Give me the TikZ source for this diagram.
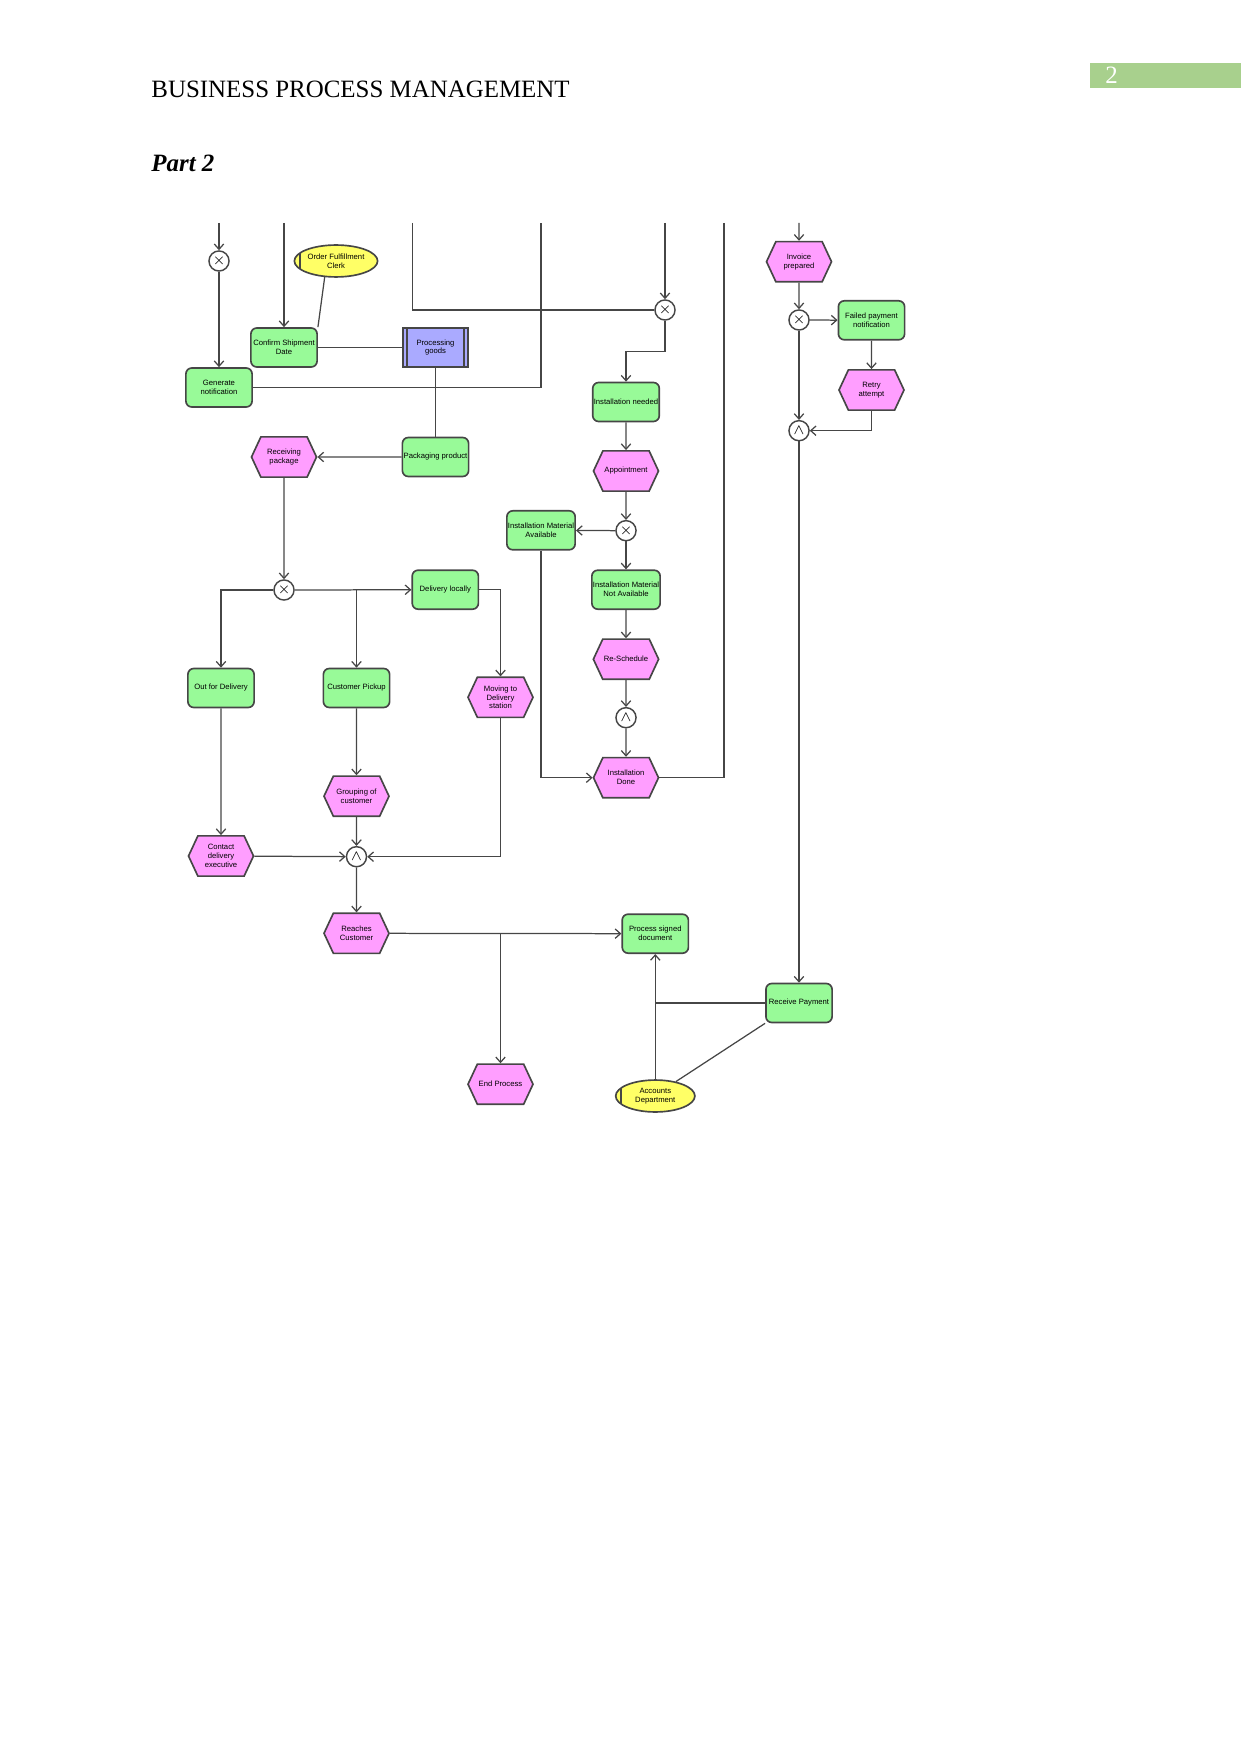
\documentclass[tikz,border=0pt]{standalone}
\usepackage{fontspec}
\setmainfont{Liberation Serif}
\newfontfamily\arisfont{Liberation Sans}
\usepackage{tikz}
\usetikzlibrary{positioning, shapes.geometric, shapes.symbols, arrows.meta, calc}
\usepackage{xcolor}
\definecolor{funcgreen}{RGB}{152,250,152}
\definecolor{eventpink}{RGB}{255,158,255}
\definecolor{roleyellow}{RGB}{255,255,102}
\definecolor{subblue}{RGB}{170,170,255}
\definecolor{edgegray}{RGB}{70,70,70}
\definecolor{pagegreen}{RGB}{168,208,141}

\begin{document}
\begin{tikzpicture}[
  x=0.169218mm, y=-0.169218mm,
  every node/.style={font=\arisfont\fontsize{3.7}{4.3}\selectfont, align=center, inner sep=0.5pt},
  func/.style={rectangle, rounded corners=1mm, draw=edgegray, line width=0.8pt, fill=funcgreen, minimum width=11.2mm, minimum height=6.6mm},
  event/.style={signal, signal to=west and east, signal pointer angle=130, draw=edgegray, line width=0.8pt, fill=eventpink, minimum width=11mm, minimum height=6.8mm},
  role/.style={ellipse, draw=edgegray, line width=0.8pt, fill=roleyellow, minimum width=13.4mm, minimum height=5.4mm,
    path picture={\draw[line width=0.8pt] ([xshift=0.9mm]path picture bounding box.north west) -- ([xshift=0.9mm]path picture bounding box.south west);}},
  subproc/.style={rectangle, draw=edgegray, line width=0.8pt, fill=subblue, minimum width=11.2mm, minimum height=6.6mm,
    path picture={
      \fill[edgegray] (path picture bounding box.north west) rectangle ([xshift=0.35mm]path picture bounding box.south west);
      \fill[edgegray] ([xshift=0.6mm]path picture bounding box.north west) rectangle ([xshift=1mm]path picture bounding box.south west);
      \fill[edgegray] (path picture bounding box.north east) rectangle ([xshift=-0.35mm]path picture bounding box.south east);
      \fill[edgegray] ([xshift=-0.6mm]path picture bounding box.north east) rectangle ([xshift=-1mm]path picture bounding box.south east);}},
  gate/.style={circle, draw=edgegray, line width=0.7pt, fill=white, minimum size=3.4mm, inner sep=0pt, font=\fontsize{7}{7}\selectfont},
  line/.style={draw=edgegray, line width=0.6pt},
  flow/.style={line, -{Straight Barb[length=0.9mm, width=1.6mm]}}
]
\useasboundingbox (0,0) rectangle (1241,1754);

% Page header
\fill[pagegreen] (1090,63) rectangle (1241,88);
\node[font=\rmfamily\fontsize{12}{14}\selectfont, text=white, anchor=base west, inner sep=0pt] (pgnum) at (1105,84) {2};
\node[font=\rmfamily\fontsize{12}{14}\selectfont, anchor=base west, inner sep=0pt] (title) at (151,98) {BUSINESS PROCESS MANAGEMENT};
\node[font=\rmfamily\bfseries\itshape\fontsize{12}{14}\selectfont, anchor=base west, inner sep=0pt] (part) at (151,172) {Part 2};

% Incoming connectors from the previous page
\coordinate (tA) at (219,223);
\coordinate (tB) at (284,223);
\coordinate (tC) at (412.3,223);
\coordinate (tD) at (541,223);
\coordinate (tE) at (665,223);
\coordinate (tF) at (724,223);
\coordinate (tG) at (799,223);

% Shipment
\node[gate] (xa) at (219,261) {$\times$};
\node[role] (ofc) at (336,261) {Order Fulfillment\\Clerk};
\node[func] (csd) at (284,347.5) {Confirm Shipment\\Date};
\node[func] (gen) at (219,387.5) {Generate\\notification};
\node[subproc] (proc) at (435.5,347.5) {Processing\\goods};
\node[func] (pack) at (435.5,457) {Packaging product};
\node[event] (recv) at (284,457) {Receiving\\package};

% Delivery
\node[gate] (xd) at (284,590) {$\times$};
\node[func] (deliv) at (445.3,589.7) {Delivery locally};
\node[func] (outd) at (221,688) {Out for Delivery};
\node[func] (cpick) at (356.5,688) {Customer Pickup};
\node[event] (moving) at (500.5,697.3) {Moving to\\Delivery\\station};
\node[event] (group) at (356.5,796.2) {Grouping of\\customer};
\node[event] (contact) at (221,856) {Contact\\delivery\\executive};
\node[gate] (gb) at (356.5,856.7) {$\wedge$};
\node[event] (reach) at (356.5,933.3) {Reaches\\Customer};
\node[event] (endp) at (500.5,1084.2) {End Process};

% Installation
\node[gate] (xb) at (665,310) {$\times$};
\node[func] (inst) at (626,402) {Installation needed};
\node[event] (appt) at (626,471) {Appointment};
\node[gate] (xc) at (626,530.7) {$\times$};
\node[func] (imav) at (541,530.3) {Installation Material\\Available};
\node[func] (imna) at (626,589.7) {Installation Material\\Not Available};
\node[event] (resch) at (626,659.2) {Re-Schedule};
\node[gate] (ga) at (626,717.7) {$\wedge$};
\node[event] (idone) at (626,777.7) {Installation\\Done};

% Payment
\node[event] (inv) at (799,261.7) {Invoice\\prepared};
\node[gate] (xe) at (799,320) {$\times$};
\node[func] (fpn) at (871.5,320.3) {Failed payment\\notification};
\node[event] (retry) at (871.5,390) {Retry\\attempt};
\node[gate] (gc) at (799,430.7) {$\wedge$};
\node[func] (rpay) at (799,1003) {Receive Payment};
\node[func] (psd) at (655.3,933.7) {Process signed\\document};
\node[role] (acc) at (655.3,1096) {Accounts\\Department};

% Shipment connections
\draw[flow] (tA) -- (xa);
\draw[flow] (xa) -- (gen);
\draw[flow] (tB) -- (csd);
\draw[line] (ofc.235) -- (csd.north east);
\draw[line] (csd) -- (proc);
\draw[line] (proc) -- (pack);
\draw[line] (gen.east) -| (tD);
\draw[flow] (pack) -- (recv);
\draw[flow] (recv) -- (xd);

% Delivery connections
\draw[flow] (xd) -- (deliv);
\draw[flow] (xd.west) -| (outd.north);
\draw[flow] (xd.east -| cpick) -- (cpick.north);
\draw[flow] (deliv.east) -| (moving.north);
\draw[flow] (outd) -- (contact);
\draw[flow] (cpick) -- (group);
\draw[flow] (group) -- (gb);
\draw[flow] (contact) -- (gb);
\draw[flow] (moving.south) |- (gb.east);
\draw[flow] (gb) -- (reach);
\draw[flow] (reach) -- (psd);
\draw[flow] (reach.east -| endp) -- (endp.north);

% Installation connections
\draw[line] (tC) |- (xb.west);
\draw[flow] (tE) -- (xb);
\draw[flow] (xb.south) -- ++(0,31) -| (inst.north);
\draw[flow] (inst) -- (appt);
\draw[flow] (appt) -- (xc);
\draw[flow] (xc) -- (imav);
\draw[flow] (xc) -- (imna);
\draw[flow] (imna) -- (resch);
\draw[flow] (resch) -- (ga);
\draw[flow] (ga) -- (idone);
\draw[flow] (imav.south) |- (idone.west);
\draw[line] (tF) |- (idone.east);

% Payment connections
\draw[flow] (tG) -- (inv);
\draw[flow] (inv) -- (xe);
\draw[flow] (xe) -- (fpn);
\draw[flow] (fpn) -- (retry);
\draw[flow] (retry.south) |- (gc.east);
\draw[flow] (xe) -- (gc);
\draw[flow] (gc) -- (rpay);
\draw[flow] (acc) -- (psd);
\draw[line] (rpay.west) -- (rpay.west -| acc);
\draw[line] (rpay.south west) -- (acc.35);

\end{tikzpicture}
\end{document}
